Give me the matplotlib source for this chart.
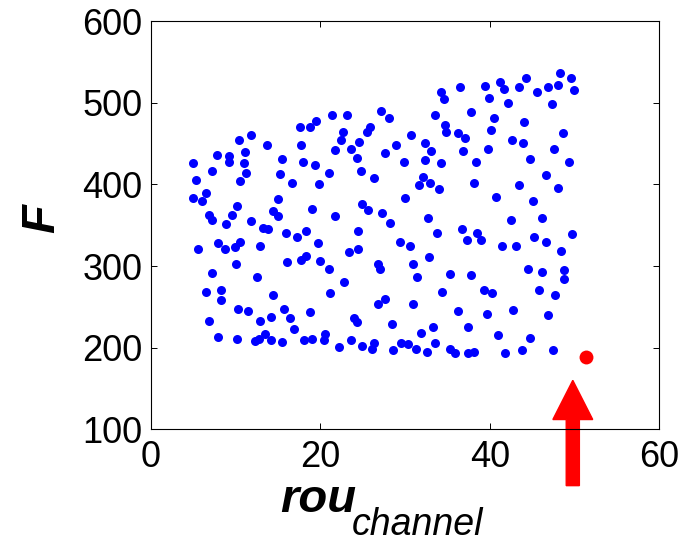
import numpy as np
import matplotlib
matplotlib.use("Agg")
import matplotlib.pyplot as plt
import matplotlib.patches as patches

plt.rcParams['font.family'] = ['Liberation Sans', 'DejaVu Sans']

# 散点数据 (rou_channel, F)
rou_channel = [
    11.9, 10.4, 17.6, 18.8, 13.7, 7.8, 9.3, 11.1, 9.2, 5.0, 11.0, 15.5, 17.7, 18.0, 19.4,
    7.2, 11.3, 15.3, 5.4, 10.6, 16.7, 19.9, 5.0, 6.5, 6.1, 15.0, 10.2, 19.1, 6.9, 7.3,
    9.6, 8.9, 11.9, 14.5, 15.0, 13.3, 13.9, 16.0, 17.3, 18.3, 5.6, 8.0, 8.8, 10.0, 10.5,
    12.9, 19.8, 10.1, 16.1, 17.7, 18.3, 20.0, 7.2, 12.6, 6.5, 8.3, 8.3, 14.4, 10.3, 11.5,
    15.8, 18.8, 6.9, 12.9, 14.2, 16.5, 16.9, 7.9, 10.2, 12.3, 12.8, 13.5, 14.2, 15.5, 18.1,
    19.1, 19.5,
    21.4, 23.2, 27.2, 28.1, 22.7, 22.5, 25.5, 25.9, 30.7, 24.6, 21.8, 23.7, 24.3, 27.6, 29.0,
    29.9, 21.0, 24.8, 26.3, 31.7, 30.0, 21.7, 24.9, 25.6, 27.3, 28.2, 24.5, 29.4, 30.6, 23.4,
    24.5, 21.0, 26.8, 27.1, 30.9, 31.4, 22.8, 21.2, 26.8, 27.7, 30.9, 24.0, 24.4, 28.5,
    20.6, 20.5, 22.2, 23.7, 24.9, 26.3, 26.1, 28.6, 29.5, 30.4, 31.3,
    48.3, 49.6, 49.9, 44.3, 43.5, 41.2, 41.7, 39.4, 36.5, 34.2, 34.6, 46.9, 48.0, 45.6, 39.9,
    42.1, 47.4, 33.6, 37.8, 40.5, 40.2, 44.1, 34.7, 34.8, 36.3, 37.1, 48.6, 42.6, 43.9, 32.4,
    33.1, 36.9, 39.8, 47.6, 32.4, 34.2, 38.4, 44.8, 49.3, 46.6, 32.1, 33.0, 34.0, 38.1, 43.5,
    48.0, 40.8, 45.1, 32.7, 42.5, 46.2, 33.8, 36.7, 37.3, 38.5, 39.0, 41.4, 43.1, 45.2, 46.6,
    49.7, 48.4, 32.9, 35.3, 37.8, 44.5, 46.2, 48.8, 48.8, 34.4, 39.3, 40.3, 45.8, 47.7, 36.3,
    39.7, 42.7, 46.9,
    31.9, 33.3, 32.6, 33.5, 35.3, 35.9, 37.5, 37.5, 38.2, 41.0, 41.8, 43.8, 44.8, 47.5,
]
F_vals = [
    461, 454, 470, 470, 448, 436, 435, 440, 428, 426, 426, 431, 448, 428, 424,
    417, 414, 413, 406, 404, 402, 400, 384, 389, 380, 382, 374, 370, 362, 356,
    362, 352, 355, 367, 361, 347, 345, 341, 336, 343, 321, 328, 321, 323, 329,
    325, 328, 303, 305, 308, 312, 306, 291, 287, 268, 271, 258, 265, 247, 245,
    247, 244, 233, 233, 238, 236, 223, 213, 211, 208, 211, 217, 209, 207, 210,
    211, 478,
    485, 485, 490, 481, 464, 454, 464, 470, 461, 452, 442, 444, 433, 438, 448,
    427, 414, 416, 408, 399, 384, 361, 376, 369, 365, 353, 343, 330, 325, 317,
    321, 297, 303, 297, 302, 286, 280, 267, 254, 260, 253, 236, 231, 229,
    217, 210, 201, 210, 202, 206, 199, 197, 206, 204, 199,
    537, 531, 516, 531, 519, 525, 517, 520, 519, 513, 505, 519, 522, 513, 506,
    500, 498, 485, 489, 482, 467, 476, 473, 464, 463, 457, 463, 455, 451, 451,
    441, 441, 444, 444, 430, 426, 428, 431, 427, 411, 409, 402, 395, 402, 399,
    396, 385, 380, 359, 356, 359, 340, 345, 332, 341, 332, 324, 324, 336, 330,
    339, 319, 311, 290, 289, 296, 293, 295, 284, 268, 271, 267, 271, 265, 245,
    241, 246, 240,
    218, 225, 195, 206, 198, 194, 225, 193, 195, 216, 193, 197, 212, 197,
]

# 标记点 (红色)
outlier_x = [51.4]
outlier_y = [189]

x_ticks = [0, 20, 40, 60]
y_ticks = [100, 200, 300, 400, 500, 600]

fig = plt.figure(figsize=(6.82, 5.42), dpi=100)
ax = fig.add_axes([0.2207, 0.2079, 0.746, 0.753])

ax.plot(rou_channel, F_vals, 'o', color=(0, 0, 1), markersize=6.5,
        markeredgewidth=0, linestyle='none')
ax.plot(outlier_x, outlier_y, 'o', color=(1, 0, 0), markersize=10,
        markeredgewidth=0, linestyle='none')

ax.set_xlim(0, 60)
ax.set_ylim(100, 600)
ax.set_xticks(x_ticks)
ax.set_yticks(y_ticks)
ax.tick_params(direction='in', length=4.3, width=0.7, labelsize=26,
               top=True, right=True, pad=6)
ax.tick_params(axis='x', pad=8)
for sp in ax.spines.values():
    sp.set_linewidth(0.8)

# 红色箭头
arrow = patches.FancyArrow(49.8, 31, 0, 129, width=1.55, head_width=4.7,
                           head_length=48, length_includes_head=True,
                           color=(1, 0, 0), clip_on=False)
ax.add_patch(arrow)

# 坐标轴标签
fig.text(280 / 682, 1 - 511.7 / 542, 'rou', fontsize=34, fontweight='bold',
         fontstyle='italic', ha='left', va='baseline')
fig.text(351.7 / 682, 1 - 535 / 542, 'channel', fontsize=27,
         fontstyle='italic', ha='left', va='baseline')
fig.text(42 / 682, 1 - 219 / 542, 'F', fontsize=34, fontweight='bold',
         fontstyle='italic', rotation=90, ha='center', va='center')

plt.savefig('out.png', dpi=100)
